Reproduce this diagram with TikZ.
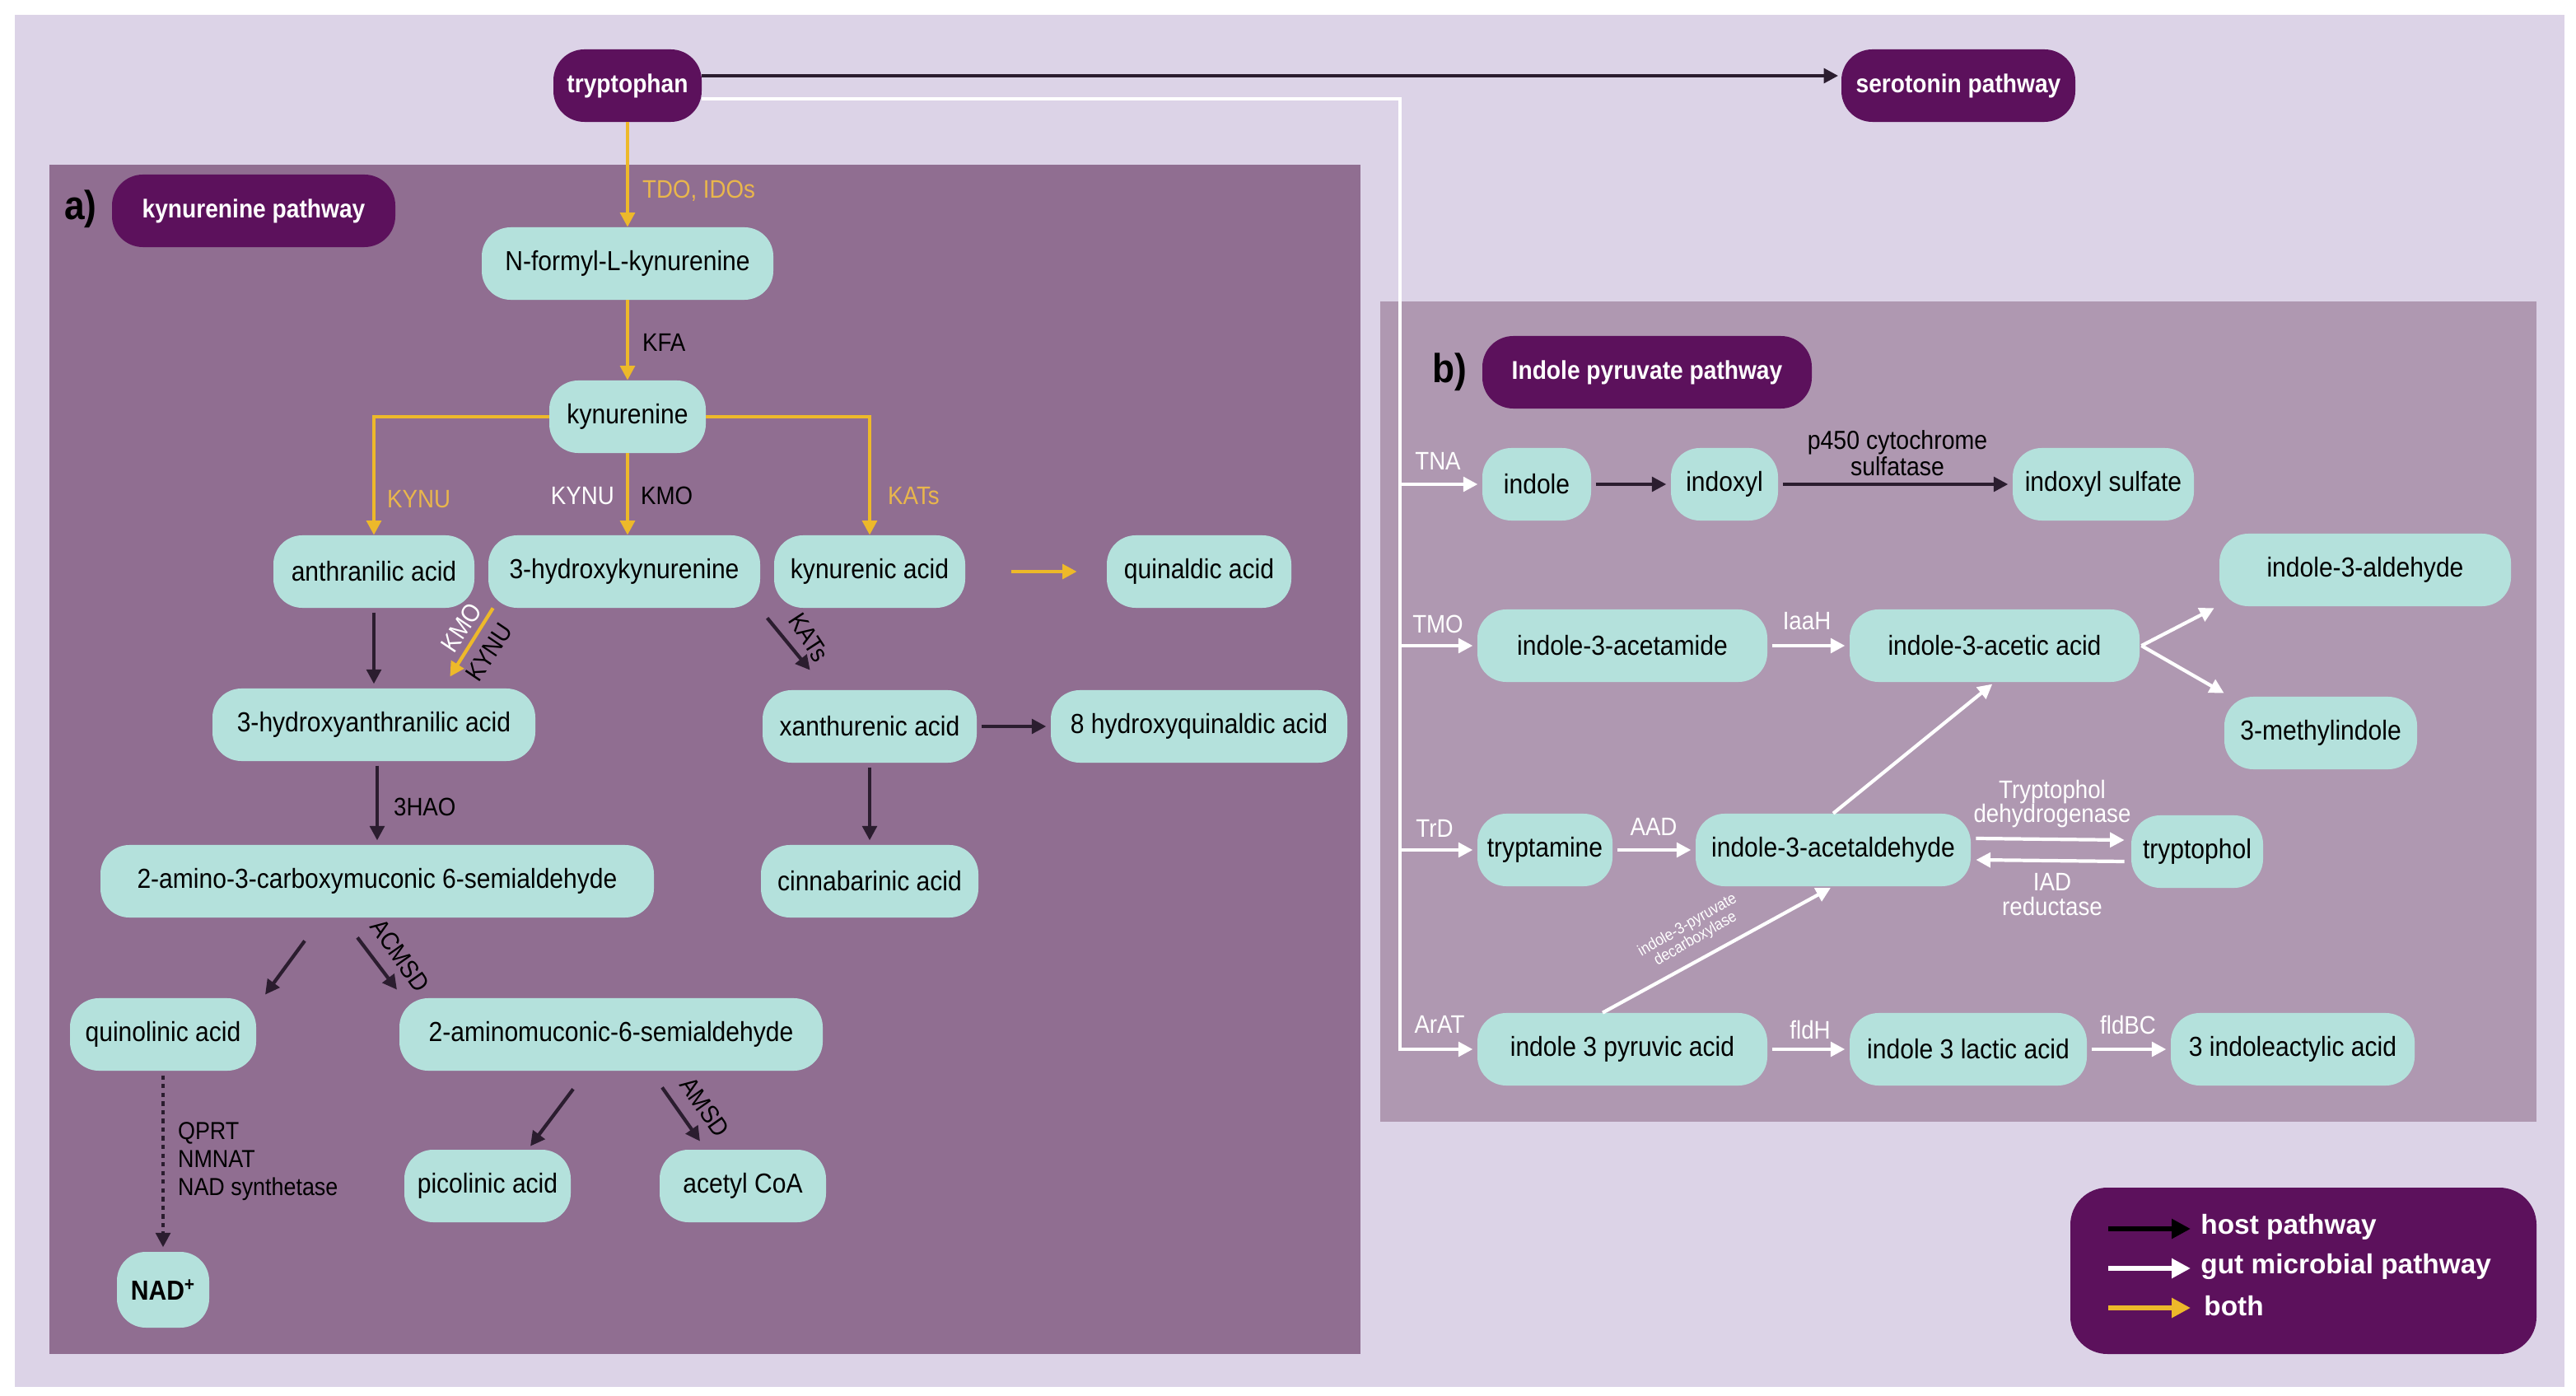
\documentclass[tikz,border=0pt]{standalone}
\usepackage{fontspec}
\setmainfont{Liberation Sans}[FakeStretch=0.9]
\newfontfamily\legfont{Liberation Sans}
\usetikzlibrary{arrows.meta,calc}
\definecolor{bgc}{HTML}{DCD3E7}
\definecolor{panA}{HTML}{906E91}
\definecolor{panB}{HTML}{AF98B1}
\definecolor{nodec}{HTML}{B4E1DC}
\definecolor{purp}{HTML}{5C115C}
\definecolor{yel}{HTML}{EDB92A}
\definecolor{yelt}{HTML}{E9B64C}
\definecolor{hostc}{HTML}{2B1D2F}
\newcommand\nodefnt{\fontsize{19}{22}\selectfont}
\newcommand\labfnt{\fontsize{17.5}{19.5}\selectfont}
\newcommand\pillfnt{\fontsize{17.8}{20}\selectfont\bfseries}
\tikzset{
  met/.style={fill=nodec, rounded corners=0.7cm, minimum height=1.76cm, inner sep=0pt, font=\nodefnt, text=black},
  pill/.style={fill=purp, rounded corners=0.75cm, minimum height=1.76cm, inner sep=0pt, font=\pillfnt, text=white},
  mw/.style={minimum width=#1*0.04cm},
  hostarr/.style={draw=hostc, line width=2.4pt, -{Triangle[length=10pt,width=10pt]}},
  micarr/.style={draw=white, line width=2.4pt, -{Triangle[length=10pt,width=10pt]}},
  botharr/.style={draw=yel, line width=2.4pt, -{Triangle[length=10pt,width=10pt]}},
  lab/.style={font=\labfnt, inner sep=1pt},
  panlet/.style={font=\fontsize{28}{30}\selectfont\bfseries, text=black, inner sep=0pt},
  gap/.style={shorten >=3pt, shorten <=3pt},
  legtxt/.style={font=\legfont\fontsize{19}{21}\selectfont\bfseries, text=white, anchor=west, inner sep=0pt}
}
\begin{document}
\begin{tikzpicture}[x=0.04cm,y=-0.04cm]
\useasboundingbox (0,0) rectangle (1564,847.5);
\fill[white] (0,0) rectangle (1564,847.5);
\fill[bgc] (9,9) rectangle (1557,842);
\fill[panA] (30,100) rectangle (826,822);
\fill[panB] (838,183) rectangle (1540,681);

% header nodes
\node[pill,mw=90] (tryp) at (381,52) {tryptophan};
\node[pill,mw=142] (sero) at (1189,52) {serotonin pathway};
\node[pill,mw=172] (pa) at (154,128) {kynurenine pathway};
\node[panlet] (la) at (49,127) {a)};
\node[pill,mw=200] (pb) at (1000,226) {Indole pyruvate pathway};
\node[panlet] (lb) at (880,226) {b)};

% panel a nodes
\node[met,mw=177] (nfk) at (381,160) {N-formyl-L-kynurenine};
\node[met,mw=95] (kyn) at (381,253) {kynurenine};
\node[met,mw=122] (anth) at (227,347) {anthranilic acid};
\node[met,mw=165] (hk) at (379,347) {3-hydroxykynurenine};
\node[met,mw=116] (kyna) at (528,347) {kynurenic acid};
\node[met,mw=112] (qald) at (728,347) {quinaldic acid};
\node[met,mw=196] (hanth) at (227,440) {3-hydroxyanthranilic acid};
\node[met,mw=130] (xan) at (528,441) {xanthurenic acid};
\node[met,mw=180] (hq) at (728,441) {8 hydroxyquinaldic acid};
\node[met,mw=336] (acms) at (229,535) {2-amino-3-carboxymuconic 6-semialdehyde};
\node[met,mw=132] (cin) at (528,535) {cinnabarinic acid};
\node[met,mw=113] (quin) at (99,628) {quinolinic acid};
\node[met,mw=257] (amsa) at (371,628) {2-aminomuconic-6-semialdehyde};
\node[met,mw=101] (pic) at (296,720) {picolinic acid};
\node[met,mw=101] (acoa) at (451,720) {acetyl CoA};
\node[met,mw=56,minimum height=46*0.04cm,font=\nodefnt\bfseries] (nad) at (99,783) {NAD\textsuperscript{+}};

% panel b nodes
\node[met,mw=66] (ind) at (933,294) {indole};
\node[met,mw=65] (indx) at (1047,294) {indoxyl};
\node[met,mw=110] (isul) at (1277,294) {indoxyl sulfate};
\node[met,mw=177] (iald) at (1436,346) {indole-3-aldehyde};
\node[met,mw=176] (iam) at (985,392) {indole-3-acetamide};
\node[met,mw=176] (iaa) at (1211,392) {indole-3-acetic acid};
\node[met,mw=117] (mind) at (1409,445) {3-methylindole};
\node[met,mw=82] (tam) at (938,516) {tryptamine};
\node[met,mw=167] (iacd) at (1113,516) {indole-3-acetaldehyde};
\node[met,mw=80] (tol) at (1334,517) {tryptophol};
\node[met,mw=176] (ipa) at (985,637) {indole 3 pyruvic acid};
\node[met,mw=144] (ila) at (1195,637) {indole 3 lactic acid};
\node[met,mw=148] (iacl) at (1392,637) {3 indoleactylic acid};

% top connectors
\draw[hostarr, shorten >=2pt] ($(tryp.east)+(0,-6)$) -- ($(sero.west)+(0,-6)$);
\coordinate (wx) at (850,60);
\draw[micarr, shorten >=3pt] ($(tryp.east)+(0,8)$) -- (wx) -- (wx |- ipa.west) -- (ipa.west);
\draw[micarr, shorten >=3pt] (wx |- ind.west) -- (ind.west);
\draw[micarr, shorten >=3pt] (wx |- iam.west) -- (iam.west);
\draw[micarr, shorten >=3pt] (wx |- tam.west) -- (tam.west);
\node[lab,text=white] (lTNA) at (873,280) {TNA};
\node[lab,text=white] (lTMO) at (873,379) {TMO};
\node[lab,text=white] (lTrD) at (871,503) {TrD};
\node[lab,text=white] (lArAT) at (874,622) {ArAT};

% panel a connectors
\draw[botharr] (tryp.south) -- (tryp.south |- nfk.north);
\node[lab,text=yelt,anchor=west] (lTDO) at (389,116) {TDO, IDOs};
\draw[botharr] (nfk.south) -- (kyn.north);
\node[lab,text=black,anchor=west] (lKFA) at (389,208) {KFA};
\draw[botharr] (kyn.west) -| (anth.north);
\node[lab,text=yelt,anchor=west] (lKYNU1) at (234,303) {KYNU};
\draw[botharr] (kyn.south) -- (kyn.south |- hk.north);
\node[lab,text=white,anchor=east] (lKYNU2) at (374,301) {KYNU};
\node[lab,text=black,anchor=west] (lKMO) at (388,301) {KMO};
\draw[botharr] (kyn.east) -| (kyna.north);
\node[lab,text=yelt,anchor=west] (lKATs1) at (538,301) {KATs};
\draw[botharr] ($(kyna.east)+(28,0)$) -- ($(qald.west)+(-18,0)$);
\draw[hostarr, gap] (anth.south) -- (anth.south |- hanth.north);
\draw[botharr] ($(hk.south west)+(3,0)$) -- ($(hanth.north east)+(-52,-7)$);
\node[lab,text=white,rotate=56] (lKMO2) at (280,381) {KMO};
\node[lab,text=black,rotate=56] (lKYNU3) at (297,396) {KYNU};
\draw[hostarr] ($(kyna.south west)+(-4,6)$) -- ($(xan.north west)+(29,-12)$);
\node[lab,text=black,rotate=-57] (lKATs2) at (491,387) {KATs};
\draw[hostarr, gap] (xan.east) -- (hq.west);
\draw[hostarr, gap] (xan.south) -- (xan.south |- cin.north);
\draw[hostarr, gap] ($(hanth.south)+(2,0)$) -- ($(hanth.south |- acms.north)+(2,0)$);
\node[lab,text=black,anchor=west] (l3HAO) at (238,490) {3HAO};
\draw[hostarr] ($(acms.south)+(-44,14)$) -- ($(quin.north)+(62,-2)$);
\draw[hostarr] ($(acms.south)+(-12,12)$) -- ($(amsa.north)+(-130,-5)$);
\node[lab,text=black,rotate=-55] (lACMSD) at (243,580) {ACMSD};
\draw[hostarr, dashed, gap] (quin.south) -- (nad.north);
\node[lab,text=black,anchor=west,align=left,font=\fontsize{17}{19.3}\selectfont] (lQPRT) at (107,705) {QPRT\\NMNAT\\NAD synthetase};
\draw[hostarr] ($(amsa.south)+(-23,11)$) -- ($(pic.north)+(26,-2)$);
\draw[hostarr] ($(amsa.south)+(31,10)$) -- ($(acoa.north)+(-26,-5)$);
\node[lab,text=black,rotate=-55] (lAMSD) at (428,672) {AMSD};

% panel b connectors
\draw[hostarr, gap] (ind.east) -- (indx.west);
\draw[hostarr, gap] (indx.east) -- (isul.west);
\node[lab,text=black,align=center,font=\fontsize{18}{18}\selectfont] (lp450) at (1152,275) {p450 cytochrome\\sulfatase};
\draw[micarr, gap] (iam.east) -- (iaa.west);
\node[lab,text=white] (lIaaH) at (1097,377) {IaaH};
\draw[micarr] ($(iaa.east)+(1,0)$) -- ($(iald.south west)+(-3,1)$);
\draw[micarr] ($(iaa.east)+(1,0)$) -- ($(mind.north west)+(0,-2)$);
\draw[micarr, gap] (tam.east) -- (iacd.west);
\node[lab,text=white] (lAAD) at (1004,502) {AAD};
\draw[micarr, shorten >=2pt] (iacd.north) -- (iaa.south);
\draw[micarr] ($(iacd.east)+(3,-7)$) -- ($(tol.west)+(-4,-7)$);
\draw[micarr] ($(tol.west)+(-4,6)$) -- ($(iacd.east)+(3,6)$);
\node[lab,text=white,align=center,font=\fontsize{17.5}{17}\selectfont] (lTdh) at (1246,488) {Tryptophol\\dehydrogenase};
\node[lab,text=white,align=center,font=\fontsize{17.5}{17}\selectfont] (lIAD) at (1246,543) {IAD\\reductase};
\draw[micarr, shorten >=2pt] ($(ipa.north)+(-12,0)$) -- (iacd.south);
\node[lab,text=white,align=center,rotate=30,font=\fontsize{11}{11}\selectfont] (ldec) at (1027,566) {indole-3-pyruvate\\decarboxylase};
\draw[micarr, gap] (ipa.east) -- (ila.west);
\node[lab,text=white] (lfldH) at (1099,625) {fldH};
\draw[micarr, gap] (ila.east) -- (iacl.west);
\node[lab,text=white] (lfldBC) at (1292,622) {fldBC};

% legend
\node[fill=purp, rounded corners=0.9cm, minimum width=283*0.04cm, minimum height=101*0.04cm, inner sep=0pt] (legend) at (1398.5,771.5) {};
\coordinate (lg1a) at (1280,746); \coordinate (lg1b) at (1330,746);
\coordinate (lg2a) at (1280,770); \coordinate (lg2b) at (1330,770);
\coordinate (lg3a) at (1280,794); \coordinate (lg3b) at (1330,794);
\draw[hostarr, draw=black, line width=3.2pt, -{Triangle[length=13pt,width=13pt]}] (lg1a) -- (lg1b);
\draw[micarr, line width=3.2pt, -{Triangle[length=13pt,width=13pt]}] (lg2a) -- (lg2b);
\draw[botharr, line width=3.2pt, -{Triangle[length=13pt,width=13pt]}] (lg3a) -- (lg3b);
\node[legtxt] (lgt1) at (1336,745) {host pathway};
\node[legtxt] (lgt2) at (1336,769) {gut microbial pathway};
\node[legtxt] (lgt3) at (1338,793) {both};
\end{tikzpicture}
\end{document}
